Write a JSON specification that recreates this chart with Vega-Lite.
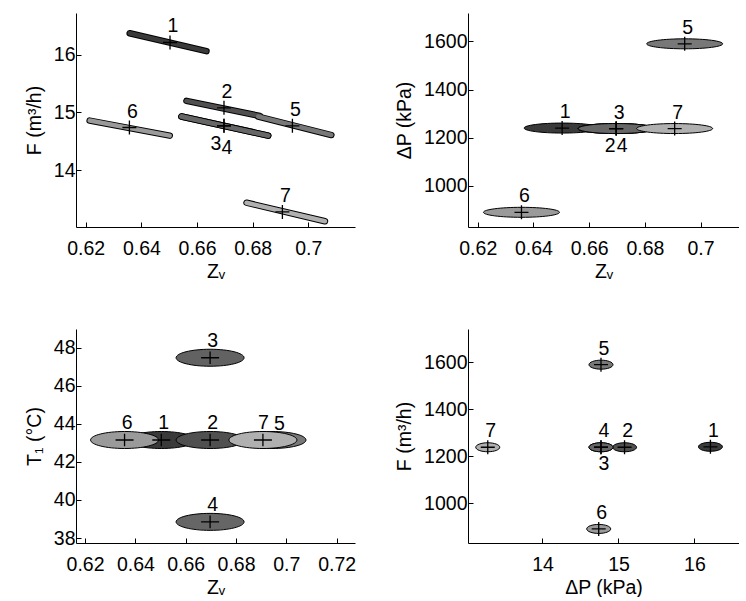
{
  "$schema": "https://vega.github.io/schema/vega-lite/v6.json",
  "padding": {"left": 24, "top": 13, "right": 0, "bottom": 0},
  "autosize": {"type": "pad"},
  "bounds": "flush",
  "columns": 2,
  "spacing": {"row": 102, "column": 113},
  "data": {"values": [
    {"id": 1, "Zv": 0.6503, "F": 16.21, "dP": 1240, "T1": 43.15, "zva": 0.6358, "fa": 16.37, "zvb": 0.6634, "fb": 16.06},
    {"id": 2, "Zv": 0.6697, "F": 15.08, "dP": 1238, "T1": 43.15, "zva": 0.6562, "fa": 15.20, "zvb": 0.6826, "fb": 14.94},
    {"id": 3, "Zv": 0.6697, "F": 14.77, "dP": 1238, "T1": 47.47, "zva": 0.6544, "fa": 14.93, "zvb": 0.6856, "fb": 14.60},
    {"id": 4, "Zv": 0.6697, "F": 14.77, "dP": 1238, "T1": 38.85, "zva": 0.6544, "fa": 14.93, "zvb": 0.6856, "fb": 14.60},
    {"id": 5, "Zv": 0.6943, "F": 14.77, "dP": 1590, "T1": 43.15, "zva": 0.6820, "fa": 14.93, "zvb": 0.7083, "fb": 14.61},
    {"id": 6, "Zv": 0.6357, "F": 14.74, "dP": 890, "T1": 43.15, "zva": 0.6214, "fa": 14.86, "zvb": 0.6502, "fb": 14.60},
    {"id": 7, "Zv": 0.6907, "F": 13.28, "dP": 1238, "T1": 43.15, "zva": 0.6778, "fa": 13.44, "zvb": 0.7060, "fb": 13.12}
  ]},
  "config": {
    "view": {"stroke": null},
    "font": "Liberation Sans",
    "axis": {"domainColor": "black", "domainWidth": 1, "tickColor": "black", "tickSize": -5, "tickWidth": 1,
      "labelFont": "Liberation Sans", "labelFontSize": 19.5, "labelColor": "black",
      "titleFont": "Liberation Sans", "titleFontSize": 19.5, "titleFontWeight": "normal", "titleColor": "black",
      "grid": false, "labelFlush": false, "labelOverlap": false},
    "axisX": {"labelPadding": 17, "titlePadding": 5},
    "axisY": {"labelPadding": 6, "titlePadding": 9},
    "text": {"font": "Liberation Sans", "fontSize": 19.5, "color": "black", "baseline": "middle", "align": "center"}
  },
  "concat": [
    {
      "width": 279, "height": 214,
      "encoding": {
        "x": {"field": "Zv", "type": "quantitative", "title": "Zᵥ", "scale": {"domain": [0.6165, 0.7168], "nice": false, "zero": false}, "axis": {"values": [0.62, 0.64, 0.66, 0.68, 0.7], "format": "~g"}},
        "y": {"field": "F", "type": "quantitative", "title": "F (m³/h)", "scale": {"domain": [13.02, 16.72], "nice": false, "zero": false}, "axis": {"values": [14, 15, 16]}}
      },
      "layer": [
        {"mark": {"type": "rule", "strokeWidth": 6.5, "strokeCap": "round", "color": "black"},
         "encoding": {
           "x": {"field": "zva", "type": "quantitative", "title": "Zᵥ", "scale": {"domain": [0.6165, 0.7168], "nice": false, "zero": false}},
           "x2": {"field": "zvb"},
           "y": {"field": "fa", "type": "quantitative", "title": "F (m³/h)", "scale": {"domain": [13.02, 16.72], "nice": false, "zero": false}},
           "y2": {"field": "fb"}}},
        {"mark": {"type": "rule", "strokeWidth": 4.5, "strokeCap": "round"},
         "encoding": {
           "x": {"field": "zva", "type": "quantitative", "title": "Zᵥ", "scale": {"domain": [0.6165, 0.7168], "nice": false, "zero": false}},
           "x2": {"field": "zvb"},
           "y": {"field": "fa", "type": "quantitative", "title": "F (m³/h)", "scale": {"domain": [13.02, 16.72], "nice": false, "zero": false}},
           "y2": {"field": "fb"},
           "color": {"field": "id", "type": "nominal", "legend": null, "scale": {"domain": [1, 2, 3, 4, 5, 6, 7], "range": ["#3a3a3a", "#505050", "#626262", "#666666", "#787878", "#9a9a9a", "#b0b0b0"]}}}},
        {"mark": {"type": "point", "shape": "M-1,0L1,0M0,-1L0,1", "size": 196, "filled": false, "stroke": "black", "strokeWidth": 1.3, "opacity": 1}},
        {"transform": [{"filter": "datum.id != 3 && datum.id != 4"}],
         "mark": {"type": "text", "dx": 3, "dy": -16}, "encoding": {"text": {"field": "id", "type": "nominal"}}},
        {"transform": [{"filter": "datum.id == 3"}],
         "mark": {"type": "text", "dx": -8, "dy": 18}, "encoding": {"text": {"field": "id", "type": "nominal"}}},
        {"transform": [{"filter": "datum.id == 4"}],
         "mark": {"type": "text", "dx": 3, "dy": 22}, "encoding": {"text": {"field": "id", "type": "nominal"}}}
      ]
    },
    {
      "width": 271, "height": 214,
      "encoding": {
        "x": {"field": "Zv", "type": "quantitative", "title": "Zᵥ", "scale": {"domain": [0.6165, 0.7138], "nice": false, "zero": false}, "axis": {"values": [0.62, 0.64, 0.66, 0.68, 0.7], "format": "~g"}},
        "y": {"field": "dP", "type": "quantitative", "title": "ΔP (kPa)", "scale": {"domain": [829, 1718], "nice": false, "zero": false}, "axis": {"values": [1000, 1200, 1400, 1600], "format": "d"}}
      },
      "layer": [
        {"mark": {"type": "point", "shape": "M-1,0A1,0.1316,0,1,1,1,0A1,0.1316,0,1,1,-1,0Z", "size": 5776, "filled": true, "stroke": "black", "strokeWidth": 1, "opacity": 1},
         "encoding": {"color": {"field": "id", "type": "nominal", "legend": null, "scale": {"domain": [1, 2, 3, 4, 5, 6, 7], "range": ["#3a3a3a", "#505050", "#626262", "#666666", "#787878", "#9a9a9a", "#b0b0b0"]}}}},
        {"mark": {"type": "point", "shape": "M-1,0L1,0M0,-1L0,1", "size": 196, "filled": false, "stroke": "black", "strokeWidth": 1.3, "opacity": 1}},
        {"transform": [{"filter": "datum.id != 2 && datum.id != 4"}],
         "mark": {"type": "text", "dx": 3, "dy": -16}, "encoding": {"text": {"field": "id", "type": "nominal"}}},
        {"transform": [{"filter": "datum.id == 2"}],
         "mark": {"type": "text", "dx": -6, "dy": 17}, "encoding": {"text": {"field": "id", "type": "nominal"}}},
        {"transform": [{"filter": "datum.id == 4"}],
         "mark": {"type": "text", "dx": 6, "dy": 17}, "encoding": {"text": {"field": "id", "type": "nominal"}}}
      ]
    },
    {
      "width": 279, "height": 214,
      "encoding": {
        "x": {"field": "Zv", "type": "quantitative", "title": "Zᵥ", "scale": {"domain": [0.6164, 0.7273], "nice": false, "zero": false}, "axis": {"values": [0.62, 0.64, 0.66, 0.68, 0.7, 0.72], "format": "~g"}},
        "y": {"field": "T1", "type": "quantitative", "title": "T₁ (°C)", "scale": {"domain": [37.74, 48.98], "nice": false, "zero": false}, "axis": {"values": [38, 40, 42, 44, 46, 48]}}
      },
      "layer": [
        {"mark": {"type": "point", "shape": "M-1,0A1,0.25,0,1,1,1,0A1,0.25,0,1,1,-1,0Z", "size": 4624, "filled": true, "stroke": "black", "strokeWidth": 1, "opacity": 1},
         "encoding": {"color": {"field": "id", "type": "nominal", "legend": null, "scale": {"domain": [1, 2, 3, 4, 5, 6, 7], "range": ["#3a3a3a", "#505050", "#626262", "#666666", "#787878", "#9a9a9a", "#b0b0b0"]}}}},
        {"transform": [{"filter": "datum.id != 5"}],
         "mark": {"type": "point", "shape": "M-1,0L1,0M0,-0.7L0,0.7", "size": 324, "filled": false, "stroke": "black", "strokeWidth": 1.3, "opacity": 1}},
        {"transform": [{"filter": "datum.id != 5 && datum.id != 7"}],
         "mark": {"type": "text", "dx": 2.5, "dy": -17}, "encoding": {"text": {"field": "id", "type": "nominal"}}},
        {"transform": [{"filter": "datum.id == 7"}],
         "mark": {"type": "text", "dx": 0.5, "dy": -17}, "encoding": {"text": {"field": "id", "type": "nominal"}}},
        {"transform": [{"filter": "datum.id == 5"}],
         "mark": {"type": "text", "dx": 7.5, "dy": -16}, "encoding": {"text": {"field": "id", "type": "nominal"}}}
      ]
    },
    {
      "width": 271, "height": 214,
      "encoding": {
        "x": {"field": "F", "type": "quantitative", "title": "ΔP (kPa)", "scale": {"domain": [13.02, 16.586], "nice": false, "zero": false}, "axis": {"values": [14, 15, 16]}},
        "y": {"field": "dP", "type": "quantitative", "title": "F (m³/h)", "scale": {"domain": [830, 1742], "nice": false, "zero": false}, "axis": {"values": [1000, 1200, 1400, 1600], "format": "d"}}
      },
      "layer": [
        {"mark": {"type": "point", "shape": "M-1,0A1,0.375,0,1,1,1,0A1,0.375,0,1,1,-1,0Z", "size": 576, "filled": true, "stroke": "black", "strokeWidth": 1, "opacity": 1},
         "encoding": {"color": {"field": "id", "type": "nominal", "legend": null, "scale": {"domain": [1, 2, 3, 4, 5, 6, 7], "range": ["#3a3a3a", "#505050", "#626262", "#666666", "#787878", "#9a9a9a", "#b0b0b0"]}}}},
        {"mark": {"type": "point", "shape": "M-1,0L1,0M0,-1L0,1", "size": 196, "filled": false, "stroke": "black", "strokeWidth": 1.3, "opacity": 1}},
        {"transform": [{"filter": "datum.id != 3"}],
         "mark": {"type": "text", "dx": 3, "dy": -16}, "encoding": {"text": {"field": "id", "type": "nominal"}}},
        {"transform": [{"filter": "datum.id == 3"}],
         "mark": {"type": "text", "dx": 3, "dy": 17}, "encoding": {"text": {"field": "id", "type": "nominal"}}}
      ]
    }
  ]
}
